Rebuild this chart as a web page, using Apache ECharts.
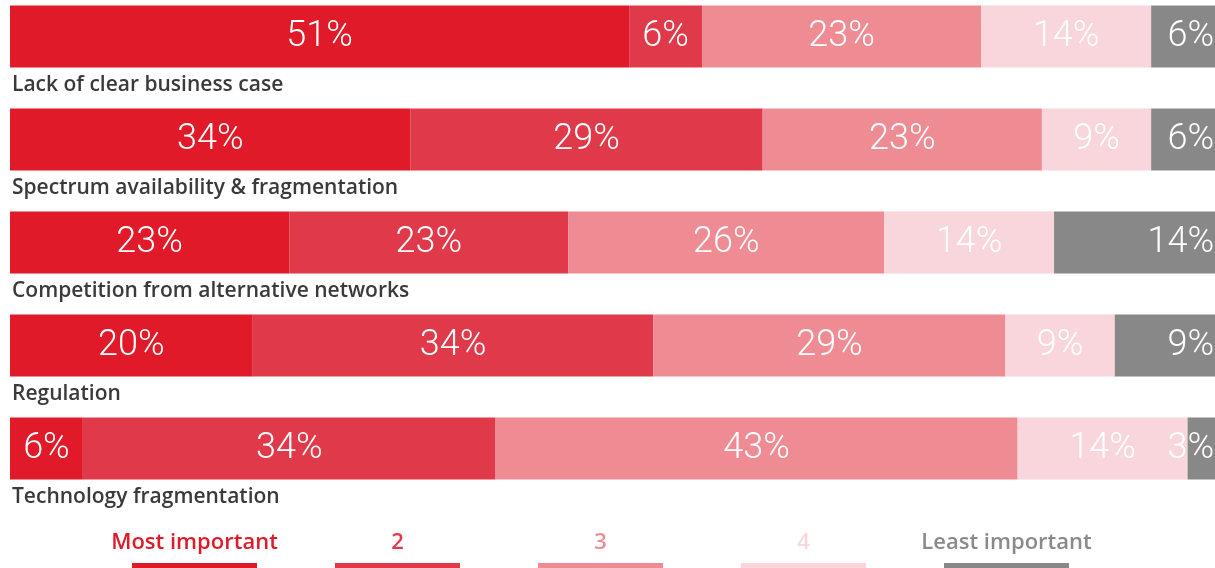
<!DOCTYPE html>
<html>
<head>
<meta charset="utf-8">
<script src="https://cdn.jsdelivr.net/npm/echarts@6/dist/echarts.min.js"></script>
<style>
  html, body { margin: 0; padding: 0; background: #fff; }
  #chart { width: 1215px; height: 568px; }
</style>
</head>
<body>
<div id="chart"></div>
<script>
// challenges, top to bottom
const categories = [
  'Lack of clear business case',
  'Spectrum availability & fragmentation',
  'Competition from alternative networks',
  'Regulation',
  'Technology fragmentation'
];

// share of respondents per rank (bar widths as drawn)
const mostImportant = [51, 33, 23, 20, 6];
const rank2 = [6, 29, 23, 33, 34];
const rank3 = [23, 23, 26, 29, 43];
const rank4 = [14, 9, 14, 9, 14];
const leastImportant = [6, 6, 14, 9, 3];

// labels as printed on the bars
const mostImportantLabels = ['51%', '34%', '23%', '20%', '6%'];
const rank2Labels = ['6%', '29%', '23%', '34%', '34%'];
const rank3Labels = ['23%', '23%', '26%', '29%', '43%'];
const rank4Labels = ['14%', '9%', '14%', '9%', '14%'];
const leastImportantLabels = ['6%', '6%', '14%', '9%', '3%'];

const seriesNames = ['Most important', '2', '3', '4', 'Least important'];
const colors = ['#e01a28', '#e03a4a', '#ee8b93', '#f8d6db', '#888888'];
const legendTextColors = ['#e01a28', '#e03a4a', '#ee8b93', '#f8d6db', '#8a8a8a'];

const values = [mostImportant, rank2, rank3, rank4, leastImportant];
const labels = [mostImportantLabels, rank2Labels, rank3Labels, rank4Labels, leastImportantLabels];

const chart = echarts.init(document.getElementById('chart'));

const series = seriesNames.map((name, i) => ({
  name: name,
  type: 'bar',
  stack: 'total',
  barWidth: 62,
  data: values[i],
  itemStyle: { color: colors[i] },
  label: {
    show: true,
    position: i === 4 ? 'insideRight' : 'inside',
    distance: 10,
    color: '#fff',
    fontFamily: 'Roboto, "DejaVu Sans Condensed", sans-serif',
    fontWeight: 300,
    fontSize: 36,
    formatter: (p) => labels[i][p.dataIndex]
  },
  emphasis: { disabled: true }
}));

const legendStep = 203;
const legendLeft = 132;

chart.setOption({
  animation: false,
  grid: { left: 10, top: -15, width: 1214, height: 515, containLabel: false, outerBoundsMode: 'none' },
  xAxis: {
    type: 'value',
    min: 0,
    max: 100,
    show: false
  },
  yAxis: {
    type: 'category',
    inverse: true,
    data: categories,
    axisLine: { show: false },
    axisTick: { show: false },
    axisLabel: {
      inside: true,
      interval: 0,
      margin: 2,
      align: 'left',
      verticalAlign: 'top',
      padding: [38, 0, 0, 0],
      color: '#3a3a3a',
      fontFamily: '"Open Sans", sans-serif',
      fontWeight: 600,
      fontSize: 21
    },
    z: 10
  },
  legend: seriesNames.map((name, i) => ({
    data: [name],
    left: legendLeft + legendStep * i,
    top: 563,
    padding: 0,
    icon: 'rect',
    itemWidth: 125,
    itemHeight: 10,
    selectedMode: false,
    formatter: () => ''
  })),
  graphic: seriesNames.map((name, i) => ({
    type: 'text',
    x: legendLeft + legendStep * i + 62.5,
    y: 543,
    style: {
      text: name,
      align: 'center',
      verticalAlign: 'middle',
      fill: legendTextColors[i],
      font: '600 22px "Open Sans", sans-serif'
    }
  })),
  series: series
});
</script>
</body>
</html>
